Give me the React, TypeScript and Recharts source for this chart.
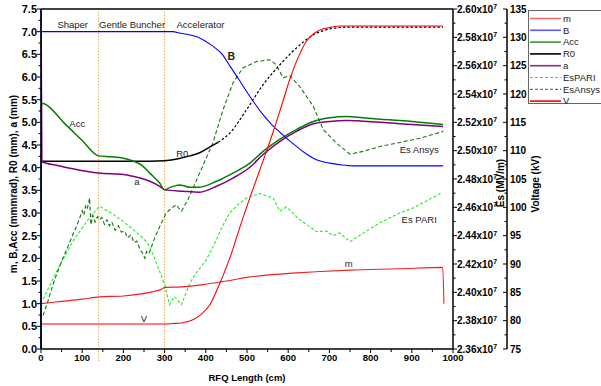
import React from 'react';
import { ComposedChart, Line, XAxis, YAxis, ReferenceLine, ReferenceDot } from 'recharts';

// RFQ length positions (cm) and values
const mLen = [0, 50, 100, 142, 200, 239, 270, 290, 302, 340, 400, 450, 500, 560, 620, 660, 750, 870, 975, 978];
const mVal = [1.0, 1.05, 1.1, 1.15, 1.17, 1.21, 1.26, 1.31, 1.36, 1.37, 1.43, 1.5, 1.58, 1.64, 1.68, 1.7, 1.74, 1.77, 1.8, 1.0];

const bLen = [0, 1, 320, 336, 380, 417, 440, 458, 480, 499, 520, 539, 560, 580, 600, 620, 640, 661, 680, 701, 730, 758, 976];
const bVal = [0, 7.0, 7.0, 6.97, 6.88, 6.68, 6.5, 6.25, 5.95, 5.68, 5.4, 5.17, 4.95, 4.78, 4.62, 4.47, 4.33, 4.21, 4.14, 4.1, 4.06, 4.04, 4.04];

const accLen = [0, 1, 60, 100, 140, 170, 200, 223, 245, 264, 288, 300, 312, 336, 361, 385, 426, 466, 507, 539, 580, 620, 661, 701, 742, 782, 823, 871, 920, 976];
const accVal = [0, 5.42, 4.95, 4.6, 4.26, 4.24, 4.21, 4.15, 4.05, 3.88, 3.66, 3.51, 3.56, 3.62, 3.57, 3.57, 3.7, 3.88, 4.1, 4.36, 4.63, 4.84, 5.02, 5.1, 5.13, 5.1, 5.07, 5.04, 5.0, 4.95];

const r0Len = [0, 100, 200, 264, 300, 336, 361, 385, 410, 430];
const r0Val = [4.14, 4.14, 4.14, 4.14, 4.15, 4.2, 4.26, 4.33, 4.46, 4.56];
const r0TailLen = [430, 458, 499, 539, 580, 620, 661, 701, 742, 976];
const r0TailVal = [4.56, 4.76, 5.28, 5.83, 6.27, 6.64, 6.93, 7.06, 7.1, 7.1];

const aLen = [0, 2, 40, 80, 140, 200, 223, 264, 288, 300, 345, 385, 426, 466, 507, 539, 580, 620, 661, 701, 742, 823, 871, 976];
const aVal = [7.5, 4.13, 4.05, 3.97, 3.88, 3.85, 3.81, 3.7, 3.59, 3.51, 3.48, 3.46, 3.59, 3.77, 4.01, 4.29, 4.58, 4.8, 4.97, 5.02, 5.04, 5.0, 4.97, 4.91];

const vLen = [0, 300, 320, 340, 370, 390, 410, 434, 460, 485, 511, 537, 563, 585, 604, 625, 645, 665, 685, 705, 725, 975];
const vKv = [79.4, 79.4, 79.5, 79.6, 80.2, 81.2, 82.8, 86.6, 91.4, 97.0, 102.5, 107.8, 113.2, 118.2, 122.6, 126.6, 129.4, 130.8, 131.5, 131.8, 132.0, 132.0];

const esPariLen = [5, 40, 77, 110, 142, 170, 199, 239, 258, 272, 288, 300, 312, 324, 341, 361, 377, 400, 418, 440, 458, 480, 499, 531, 563, 580, 596, 628, 669, 693, 709, 725, 750, 790, 822, 871, 903, 972];
const esPariVal = [2.3952e7, 2.416e7, 2.4358e7, 2.4496e7, 2.4608e7, 2.456e7, 2.4502e7, 2.4406e7, 2.4352e7, 2.4266e7, 2.4147e7, 2.4054e7, 2.3914e7, 2.3971e7, 2.3914e7, 2.4064e7, 2.4138e7, 2.4224e7, 2.4323e7, 2.4464e7, 2.456e7, 2.4624e7, 2.4666e7, 2.4698e7, 2.4666e7, 2.4573e7, 2.4602e7, 2.4512e7, 2.4429e7, 2.4432e7, 2.44e7, 2.4419e7, 2.4358e7, 2.4432e7, 2.449e7, 2.456e7, 2.4595e7, 2.4701e7];

const esAnsysLen = [5, 15, 29, 40, 53, 65, 77, 86, 94, 100, 104, 108, 112, 118, 121, 126, 131, 137, 142, 148, 154, 160, 166, 172, 180, 188, 195, 203, 210, 218, 226, 233, 240, 246, 252, 256, 262, 276, 292, 304, 316, 328, 335, 341, 357, 385, 417, 442, 466, 490, 523, 555, 571, 588, 604, 628, 661, 685, 717, 750, 782, 823, 863, 920, 976];
const esAnsysVal = [2.3837e7, 2.392e7, 2.4054e7, 2.4144e7, 2.424e7, 2.432e7, 2.4406e7, 2.4464e7, 2.4525e7, 2.4576e7, 2.4544e7, 2.4608e7, 2.4586e7, 2.4666e7, 2.4477e7, 2.4544e7, 2.4496e7, 2.4534e7, 2.4512e7, 2.4528e7, 2.448e7, 2.4512e7, 2.447e7, 2.4496e7, 2.4438e7, 2.447e7, 2.4426e7, 2.4432e7, 2.4384e7, 2.4406e7, 2.4352e7, 2.4362e7, 2.4304e7, 2.4278e7, 2.424e7, 2.4288e7, 2.4272e7, 2.4384e7, 2.449e7, 2.456e7, 2.4592e7, 2.4618e7, 2.4592e7, 2.4573e7, 2.4656e7, 2.4842e7, 2.5053e7, 2.529e7, 2.5478e7, 2.5584e7, 2.5629e7, 2.5642e7, 2.5606e7, 2.5514e7, 2.553e7, 2.5453e7, 2.5312e7, 2.5149e7, 2.5053e7, 2.4976e7, 2.4995e7, 2.503e7, 2.5053e7, 2.5088e7, 2.5136e7];

// axis ticks (major + minor)
const lenTicks = [0, 50, 100, 150, 200, 250, 300, 350, 400, 450, 500, 550, 600, 650, 700, 750, 800, 850, 900, 950, 1000];
const leftTicks = [0, 0.25, 0.5, 0.75, 1, 1.25, 1.5, 1.75, 2, 2.25, 2.5, 2.75, 3, 3.25, 3.5, 3.75, 4, 4.25, 4.5, 4.75, 5, 5.25, 5.5, 5.75, 6, 6.25, 6.5, 6.75, 7, 7.25, 7.5];
const esTicks = [23600000, 23700000, 23800000, 23900000, 24000000, 24100000, 24200000, 24300000, 24400000, 24500000, 24600000, 24700000, 24800000, 24900000, 25000000, 25100000, 25200000, 25300000, 25400000, 25500000, 25600000, 25700000, 25800000, 25900000, 26000000];
const kvTicks = [75, 77.5, 80, 82.5, 85, 87.5, 90, 92.5, 95, 97.5, 100, 102.5, 105, 107.5, 110, 112.5, 115, 117.5, 120, 122.5, 125, 127.5, 130, 132.5, 135];

const sections = [140, 300];

const notes = [
  { x: 77, y: 7.16, text: 'Shaper' },
  { x: 221, y: 7.16, text: 'Gentle Buncher' },
  { x: 387, y: 7.16, text: 'Accelerator' },
  { x: 88, y: 4.97, text: 'Acc' },
  { x: 343, y: 4.32, text: 'R0' },
  { x: 233, y: 3.7, text: 'a' },
  { x: 462, y: 6.46, text: 'B', bold: true },
  { x: 747, y: 1.88, text: 'm' },
  { x: 250, y: 0.68, text: 'V' },
  { x: 918, y: 4.4, text: 'Es Ansys' },
  { x: 918, y: 2.86, text: 'Es PARI' },
];

const legendItems = [
  { name: 'm', color: '#f07070' },
  { name: 'B', color: '#5a5af0' },
  { name: 'Acc', color: '#3c963c' },
  { name: 'R0', color: '#000000' },
  { name: 'a', color: '#8a2a8a' },
  { name: 'EsPARI', color: '#22ee22', dash: '3 2' },
  { name: 'EsAnsys', color: '#107a10', dash: '3 2' },
  { name: 'V', color: '#ff0000' },
];

const pts = (xs: number[], ys: number[]) => xs.map((x, i) => ({ x, y: ys[i] }));

const FONT = '"Liberation Sans", Arial, sans-serif';

function LenTick({ x, y, payload }: any) {
  const v = payload.value;
  const major = v % 100 === 0;
  return (
    <g>
      <line x1={x} x2={x} y1={y} y2={y + (major ? 4 : 3)} stroke="#000" />
      {major && (
        <text x={x} y={y + 9} dy="0.35em" textAnchor="middle" fontSize={9.5} fontWeight={700} fill="#000">{v}</text>
      )}
    </g>
  );
}

function LeftTick({ x, y, payload }: any) {
  const v = payload.value;
  const major = Math.abs(v * 2 - Math.round(v * 2)) < 1e-6;
  return (
    <g>
      <line x1={x - (major ? 4 : 2.5)} x2={x} y1={y} y2={y} stroke="#000" />
      {major && (
        <text x={x - 4} y={y} dy="0.35em" textAnchor="end" fontSize={11} fontWeight={700} fill="#000">{v.toFixed(1)}</text>
      )}
    </g>
  );
}

function EsTick({ x, y, payload }: any) {
  const v = payload.value;
  const major = Math.round(v / 1e5) % 2 === 0;
  return (
    <g>
      <line x1={x} x2={x + (major ? 4 : 2.5)} y1={y} y2={y} stroke="#000" />
      {major && (
        <text x={x + 4} y={y} dy="0.35em" textAnchor="start" fontSize={10} fontWeight={700} fill="#000">
          {(v / 1e7).toFixed(2)}x10<tspan dy="-0.5em" fontSize={7}>7</tspan>
        </text>
      )}
    </g>
  );
}

function KvTick({ x, y, payload }: any) {
  const v = payload.value;
  const major = v % 5 === 0;
  return (
    <g>
      <line x1={x - (major ? 4 : 2.5)} x2={x} y1={y} y2={y} stroke="#000" />
      {major && (
        <text x={x + 3} y={y} dy="0.35em" textAnchor="start" fontSize={10} fontWeight={700} fill="#000">{v}</text>
      )}
    </g>
  );
}

const vTitle = (text: string, dx: number, dy: number) => (props: any) => {
  const vb = props.viewBox;
  const cx = vb.x + dx;
  const cy = vb.y + vb.height / 2 + dy;
  return (
    <text x={cx} y={cy} transform={`rotate(-90 ${cx} ${cy})`} textAnchor="middle" dominantBaseline="central" fontSize={10} fontWeight={700} fill="#000">
      {text}
    </text>
  );
};

const xTitle = (props: any) => {
  const vb = props.viewBox;
  return (
    <text x={vb.x + vb.width / 2} y={vb.y + 28} textAnchor="middle" dominantBaseline="central" fontSize={9.5} fontWeight={700} fill="#000">
      RFQ Length (cm)
    </text>
  );
};

export default function App() {
  return (
    <div style={{ position: 'absolute', left: 0, top: 0, width: 601, height: 386, background: '#fff', fontFamily: FONT }}>
      <ComposedChart width={601} height={386} margin={{ top: 9, right: 0, bottom: 0, left: 0 }}>
        <XAxis
          type="number"
          dataKey="x"
          domain={[0, 1000]}
          ticks={lenTicks}
          interval={0}
          height={37}
          tickSize={0}
          tickMargin={0}
          tickLine={false}
          axisLine={{ stroke: '#000', strokeWidth: 1.5 }}
          tick={<LenTick />}
          label={{ content: xTitle }}
        />
        <YAxis
          yAxisId="left"
          domain={[0, 7.5]}
          ticks={leftTicks}
          interval={0}
          width={41}
          tickSize={0}
          tickMargin={0}
          tickLine={false}
          axisLine={{ stroke: '#000', strokeWidth: 1.5 }}
          tick={<LeftTick />}
          label={{ content: vTitle('m, B,Acc (mmmrad), R0 (mm), a (mm)', 13.5, 5) }}
        />
        <YAxis
          yAxisId="es"
          orientation="right"
          domain={[23600000, 26000000]}
          ticks={esTicks}
          interval={0}
          width={54}
          tickSize={0}
          tickMargin={0}
          tickLine={false}
          axisLine={{ stroke: '#000', strokeWidth: 1.5 }}
          tick={<EsTick />}
          label={{ content: vTitle('Es (MV/m)', 47, 4) }}
        />
        <YAxis
          yAxisId="kv"
          orientation="right"
          domain={[75, 135]}
          ticks={kvTicks}
          interval={0}
          width={94}
          tickSize={0}
          tickMargin={0}
          tickLine={false}
          axisLine={{ stroke: '#000', strokeWidth: 1.5 }}
          tick={<KvTick />}
          label={{ content: vTitle('Voltage (kV)', 28, 5) }}
        />

        <ReferenceLine yAxisId="left" y={7.5} stroke="#000" strokeWidth={1.5} />
        {sections.map((s) => (
          <ReferenceLine
            key={s}
            yAxisId="left"
            segment={[{ x: s, y: -0.27 }, { x: s, y: 7.45 }]}
            ifOverflow="visible"
            stroke="#f5a040"
            strokeWidth={1}
            strokeDasharray="1.5 1.5"
          />
        ))}

        <Line yAxisId="es" data={pts(esPariLen, esPariVal)} dataKey="y" type="linear" stroke="#22ee22" strokeWidth={1.1} strokeDasharray="3 2" dot={false} isAnimationActive={false} />
        <Line yAxisId="es" data={pts(esAnsysLen, esAnsysVal)} dataKey="y" type="linear" stroke="#107a10" strokeWidth={1.1} strokeDasharray="4 2.5" dot={false} isAnimationActive={false} />
        <Line yAxisId="left" data={pts(r0TailLen, r0TailVal)} dataKey="y" type="monotone" stroke="#000" strokeWidth={1.2} strokeDasharray="2.5 2" dot={false} isAnimationActive={false} />
        <Line yAxisId="left" data={pts(r0Len, r0Val)} dataKey="y" type="monotone" stroke="#000" strokeWidth={1.5} dot={false} isAnimationActive={false} />
        <Line yAxisId="left" data={pts(aLen, aVal)} dataKey="y" type="monotone" stroke="#800080" strokeWidth={1.5} dot={false} isAnimationActive={false} />
        <Line yAxisId="left" data={pts(accLen, accVal)} dataKey="y" type="monotone" stroke="#008000" strokeWidth={1.5} dot={false} isAnimationActive={false} />
        <Line yAxisId="left" data={pts(bLen, bVal)} dataKey="y" type="monotone" stroke="#0000ff" strokeWidth={1.1} dot={false} isAnimationActive={false} />
        <Line yAxisId="left" data={pts(mLen, mVal)} dataKey="y" type="monotone" stroke="#f02020" strokeWidth={1.1} dot={false} isAnimationActive={false} />
        <Line yAxisId="kv" data={pts(vLen, vKv)} dataKey="y" type="monotone" stroke="#ff0000" strokeWidth={1.1} dot={false} isAnimationActive={false} />

        {notes.map((n) => (
          <ReferenceDot
            key={n.text}
            yAxisId="left"
            x={n.x}
            y={n.y}
            r={0}
            fill="none"
            stroke="none"
            label={{ value: n.text, position: 'center', fontSize: n.bold ? 10.5 : 9.5, fontWeight: n.bold ? 700 : 400, fill: '#222' }}
          />
        ))}
      </ComposedChart>

      <div style={{ position: 'absolute', left: 528, top: 10, width: 80, height: 94, border: '1.5px solid #666', boxSizing: 'border-box', background: '#fff' }}>
        <svg width={80} height={94}>
          {legendItems.map((it, i) => {
            const y = 7.5 + i * 11.8;
            return (
              <g key={it.name}>
                <line x1={1} x2={32} y1={y} y2={y} stroke={it.color} strokeWidth={it.dash ? 1 : 1.6} strokeDasharray={it.dash} />
                <text x={34} y={y} dy="0.35em" fontSize={9.5} fill="#222">{it.name}</text>
              </g>
            );
          })}
        </svg>
      </div>
    </div>
  );
}
